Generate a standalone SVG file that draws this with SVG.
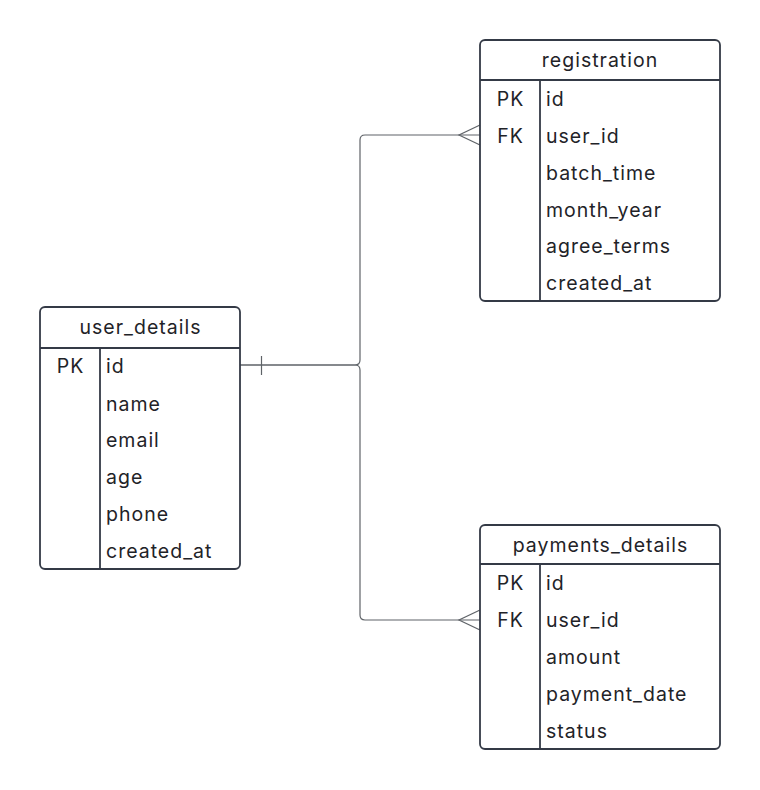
<svg xmlns="http://www.w3.org/2000/svg" width="760" height="790" viewBox="0 0 760 790">
<style>
.box{fill:#ffffff;stroke:#343a46;stroke-width:1.8}
.div{stroke:#343a46;stroke-width:1.8;fill:none}
.t{font-family:Inter,"Noto Sans",sans-serif;font-size:19.5px;letter-spacing:1px;fill:#1f2328}
.c{text-anchor:middle}
.conn{fill:none;stroke:#5f6368;stroke-width:1.2}
</style>
<rect width="760" height="790" fill="#ffffff"/>
<g id="connectors">
<path class="conn" d="M240,365 L355,365 Q360,365 360,360 L360,140 Q360,135 365,135 L480,135"/>
<path class="conn" d="M240,365 L355,365 Q360,365 360,370 L360,615 Q360,620 365,620 L480,620"/>
<path class="conn" d="M261.5,356 L261.5,375"/>
<path class="conn" d="M480,125 L459,135 L480,145"/>
<path class="conn" d="M480,610 L459,620 L480,630"/>
</g>
<g id="registration">
<rect class="box" x="480" y="40" width="240" height="261" rx="5"/>
<path class="div" d="M480,80 H720 M540,80 V301"/>
<text class="t c" x="600" y="67">registration</text>
<text class="t c" x="510.5" y="106">PK</text>
<text class="t c" x="510.5" y="143">FK</text>
<text class="t" x="546" y="106">id</text>
<text class="t" x="546" y="143">user_id</text>
<text class="t" x="546" y="180">batch_time</text>
<text class="t" x="546" y="217">month_year</text>
<text class="t" x="546" y="253">agree_terms</text>
<text class="t" x="546" y="290">created_at</text>
</g>
<g id="user_details">
<rect class="box" x="40" y="307" width="200" height="262" rx="5"/>
<path class="div" d="M40,348 H240 M100,348 V569"/>
<text class="t c" x="140.5" y="334">user_details</text>
<text class="t c" x="70.5" y="373">PK</text>
<text class="t" x="106" y="373">id</text>
<text class="t" x="106" y="411">name</text>
<text class="t" x="106" y="447">email</text>
<text class="t" x="106" y="484">age</text>
<text class="t" x="106" y="521">phone</text>
<text class="t" x="106" y="558">created_at</text>
</g>
<g id="payments_details">
<rect class="box" x="480" y="525" width="240" height="224" rx="5"/>
<path class="div" d="M480,564 H720 M540,564 V749"/>
<text class="t c" x="600.5" y="552">payments_details</text>
<text class="t c" x="510.5" y="590">PK</text>
<text class="t c" x="510.5" y="627">FK</text>
<text class="t" x="546" y="590">id</text>
<text class="t" x="546" y="627">user_id</text>
<text class="t" x="546" y="664">amount</text>
<text class="t" x="546" y="701">payment_date</text>
<text class="t" x="546" y="738">status</text>
</g>
</svg>
